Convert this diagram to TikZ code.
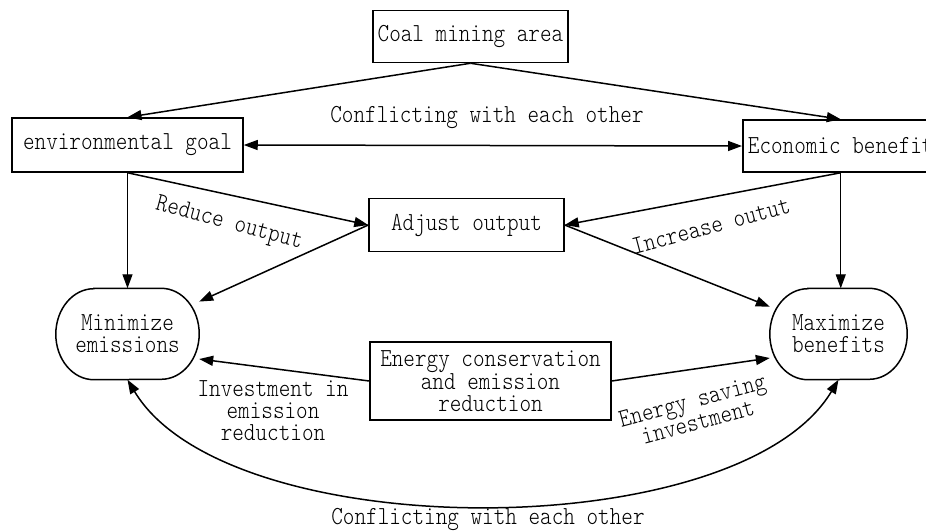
\documentclass[tikz,border=0pt]{standalone}
\usepackage{fontspec}
\newfontfamily\lmt{lmmonolt10-regular.otf}[FakeStretch=0.85]
\usetikzlibrary{arrows.meta}
\begin{document}
\begin{tikzpicture}[x=1pt,y=-1pt,
  txt/.style={font=\lmt\fontsize{26}{22}\selectfont},
  box/.style={txt, draw, line width=1.5pt, rectangle, inner sep=0pt, align=center},
  lbl/.style={txt, inner sep=0pt, align=center},
  oval/.style={txt, inner sep=0pt, align=center, minimum height=91pt},
  arr/.style={line width=1.5pt, -{Triangle[length=14pt,width=10pt]}},
  darr/.style={line width=1.5pt, {Triangle[length=14pt,width=10pt]}-{Triangle[length=14pt,width=10pt]}}]
\useasboundingbox (0,0) rectangle (926,531);
\clip (0,0) rectangle (926,531);

% boxes
\node[box, minimum width=195pt, minimum height=52pt] (coal) at (470.5,36.5) {Coal mining area};
\node[box, minimum width=231pt, minimum height=54pt] (env) at (127.5,145) {environmental goal};
\node[box, minimum width=196pt, minimum height=52pt, anchor=west] (econ) at (742,146) {Economic benefit};
\node[box, minimum width=195pt, minimum height=53pt] (adj) at (466.5,225) {Adjust output};
\node[box, minimum width=241pt, minimum height=78pt] (ene) at (490.5,381) {Energy conservation\\and emission\\reduction};

% ovals
\node[oval, minimum width=143pt] (mn) at (127.5,334) {Minimize\\emissions};
\node[oval, minimum width=137pt] (mx) at (838.5,334) {Maximize\\benefits};
\foreach \n in {mn,mx}{
  \draw[line width=1.5pt] ([xshift=38pt]\n.north west) -- ([xshift=-38pt]\n.north east)
    arc[start angle=90, end angle=-90, x radius=38pt, y radius=45.5pt]
    -- ([xshift=38pt]\n.south west)
    arc[start angle=270, end angle=90, x radius=38pt, y radius=45.5pt] -- cycle;
}

% connectors
\draw[arr] (coal.south) -- (env.north);
\draw[arr] (coal.south) -- (econ.north);
\draw[darr] (env.east) -- (econ.west);
\draw[arr, line width=1.2pt] (env.south) -- (env.south |- mn.north);
\draw[arr] (env.south) -- (adj.west);
\draw[arr] (econ.south) -- (adj.east);
\draw[arr, line width=1.2pt] (econ.south) -- (econ.south |- mx.north);
\draw[arr] (adj.west) -- (mn);
\draw[arr] (adj.east) -- (mx);
\draw[arr] (ene.west) -- ([yshift=-25pt]mn.east);
\draw[arr] (ene.east) -- ([yshift=-24pt]mx.west);
\draw[darr] (mn.south) .. controls +(100,167) and +(-100,167) .. (mx.south);

% labels
\node[lbl] (t1) at (487,117) {Conflicting with each other};
\node[lbl, rotate=-15] (t2) at (229,224) {Reduce output};
\node[lbl, rotate=15] (t3) at (711,226) {Increase outut};
\node[lbl] (t4) at (273,411) {Investment in\\emission\\reduction};
\node[lbl, rotate=15] (t5) at (695,411) {Energy saving\\investment};
\node[lbl] (t6) at (488,519) {Conflicting with each other};
\end{tikzpicture}
\end{document}
